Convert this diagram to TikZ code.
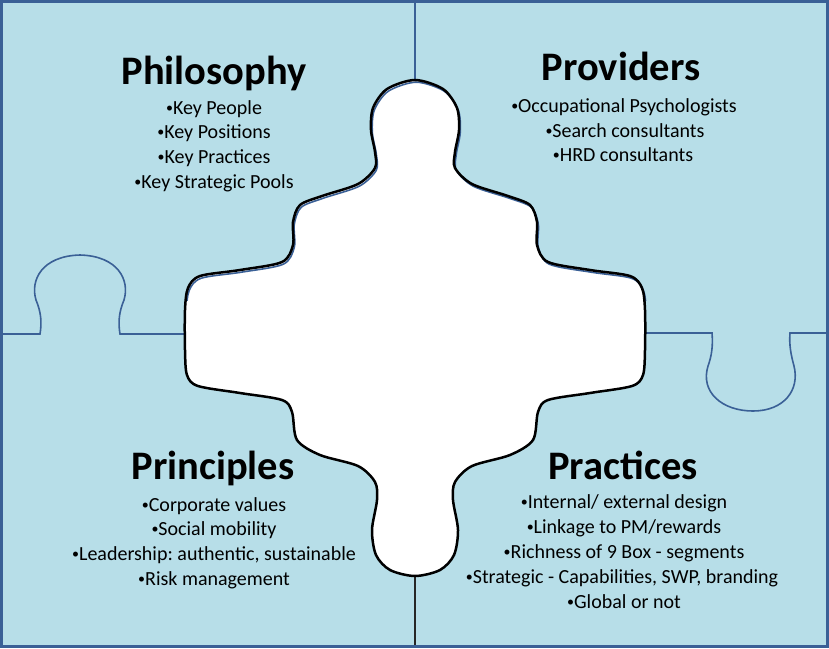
\documentclass[tikz,border=0pt]{standalone}
\usepackage{fontspec}
\setmainfont{Carlito}
\frenchspacing
\definecolor{bg}{RGB}{183,222,232}
\definecolor{edge}{RGB}{58,96,150}
\newcommand{\bul}{{\fontsize{14}{14}\selectfont\raisebox{1.6pt}{•}}}
\def\blobpts{(415,80) (443,89) (457,108) (459,130) (455,152) (455,168) (472,184) (508,196) (530,205) (537,222) (537,245) (548,262) (590,270) (630,276) (642,288) (645,310) (645,350) (643,375) (632,386) (590,393) (548,400) (538,412) (533,440) (510,455) (472,466) (455,482) (453,500) (458,530) (454,555) (440,570) (415,576)
(390,570) (376,555) (372,530) (377,500) (375,482) (358,466) (320,455) (297,440) (292,412) (282,400) (240,393) (198,386) (187,375) (185,350) (185,310) (188,288) (200,276) (240,270) (282,262) (293,245) (293,222) (300,205) (322,196) (358,184) (375,168) (375,152) (371,130) (373,108) (387,89)}
\begin{document}
\begin{tikzpicture}[x=1pt,y=-1pt,
  title/.style={anchor=base,inner sep=0pt,font=\fontsize{40.5}{42}\selectfont\bfseries},
  item/.style={anchor=base,inner sep=0pt,font=\fontsize{20}{22}\selectfont},
  seam/.style={draw=edge,line width=1.6pt}]
\useasboundingbox (0,0) rectangle (829,648);
\fill[bg] (0,0) rectangle (829,648);
% coordinates for seams
\coordinate (ttop) at (415,2);
\coordinate (tblob) at (415,80);
\coordinate (bblob) at (415,576);
\coordinate (bbot) at (415,646);
\coordinate (lstart) at (2,334);
\coordinate (lblob) at (186,334);
\coordinate (rblob) at (645,333);
\coordinate (rend) at (827,333);
% seams
\draw[seam] (ttop) -- (tblob);
\draw[line width=1.6pt,black!85] (bblob) -- (bbot);
\draw[seam] (lstart) -- (40,334) .. controls (42,322) and (41,312) .. (36,300)
  .. controls (30,280) and (42,256) .. (80,255)
  .. controls (118,256) and (130,280) .. (124,300)
  .. controls (119,312) and (118,322) .. (120,334) -- (lblob);
\draw[seam] (rblob) -- (712,333) .. controls (713,345) and (712,355) .. (708,366)
  .. controls (700,392) and (722,411) .. (753,411)
  .. controls (784,411) and (800,390) .. (794,366)
  .. controls (791,355) and (789,345) .. (790,333) -- (rend);
% blob
\fill[white] plot[smooth cycle,tension=0.5] coordinates {\blobpts};
\begin{scope}
\clip (0,0) rectangle (829,300);
\draw[edge,line width=1.6pt,shift={(1.3,2.2)}] plot[smooth cycle,tension=0.5] coordinates {\blobpts};
\end{scope}
\draw[black,line width=2.5pt] plot[smooth cycle,tension=0.5] coordinates {\blobpts};
% border
\draw[edge,line width=2.5pt] (1.5,1.5) rectangle (827.5,646.5);
% texts
\node[title] (phil) at (214,84) {Philosophy};
\node[item] (phil1) at (214,114) {\bul Key People};
\node[item] (phil2) at (214,138) {\bul Key Positions};
\node[item] (phil3) at (214,163) {\bul Key Practices};
\node[item] (phil4) at (214,188) {\bul Key Strategic Pools};
\node[title] (prov) at (621,80) {Providers};
\node[item] (prov1) at (624,112) {\bul Occupational Psychologists};
\node[item] (prov2) at (625,137) {\bul Search consultants};
\node[item] (prov3) at (623,161) {\bul HRD consultants};
\node[title] (prin) at (213,479) {Principles};
\node[item] (prin1) at (214,511) {\bul Corporate values};
\node[item] (prin2) at (214,535) {\bul Social mobility};
\node[item] (prin3) at (214,560) {\bul Leadership: authentic, sustainable};
\node[item] (prin4) at (214,585) {\bul Risk management};
\node[title] (prac) at (623,479) {Practices};
\node[item] (prac1) at (624,508) {\bul Internal/ external design};
\node[item] (prac2) at (624,533) {\bul Linkage to PM/rewards};
\node[item] (prac3) at (624,558) {\bul Richness of 9 Box - segments};
\node[item] (prac4) at (622,583) {\bul Strategic - Capabilities, SWP, branding};
\node[item] (prac5) at (624,608) {\bul Global or not};
\end{tikzpicture}
\end{document}
